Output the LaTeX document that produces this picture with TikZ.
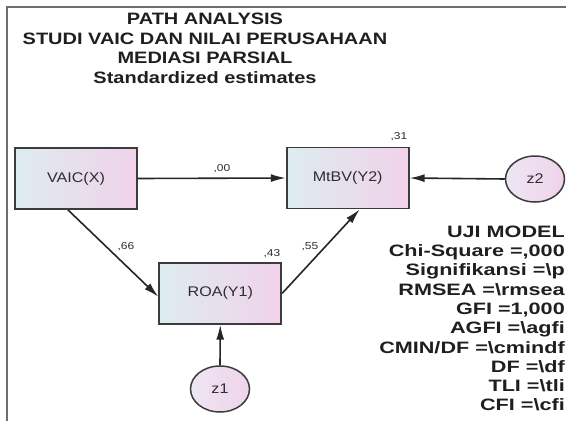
\documentclass[tikz,border=0pt]{standalone}
\usepackage{fontspec}
\setmainfont{Liberation Sans}
\usepackage{graphicx}
\usetikzlibrary{arrows.meta,calc,shapes.geometric}
\definecolor{boxL}{HTML}{DDECEF}
\definecolor{boxR}{HTML}{F1D2EA}
\definecolor{ellL}{HTML}{EDE6F3}
\definecolor{ellR}{HTML}{EFD3EA}
\definecolor{edgeC}{HTML}{3C3C3C}
\definecolor{txtC}{HTML}{2E2E2E}
\definecolor{frameC}{HTML}{6E6E6E}
\newcommand\hx[2]{\scalebox{#1}[1]{#2}}
\tikzset{
  varbox/.style={draw=edgeC, line width=1.8pt, left color=boxL, right color=boxR,
    minimum width=122pt, minimum height=61pt, inner sep=0pt,
    font=\fontsize{14}{16}\selectfont, text=txtC},
  errell/.style={ellipse, draw=edgeC, line width=1.5pt, left color=ellL, right color=ellR,
    minimum width=59pt, minimum height=46pt, inner sep=0pt,
    font=\fontsize{14}{16}\selectfont, text=txtC},
  path/.style={line width=1.6pt, draw=black!85, -{Latex[length=15pt,width=8pt]}},
  coef/.style={font=\fontsize{10}{12}\selectfont, text=txtC, inner sep=0pt},
}
\begin{document}
\begin{tikzpicture}[x=1pt,y=-1pt]
\useasboundingbox (0,0) rectangle (566,421);
\fill[white] (0,0) rectangle (566,421);
% frame
\draw[frameC, line width=2pt] (7,421) -- (7,6.5) -- (566,6.5);
% title
\node[anchor=north, inner sep=0pt, font=\bfseries\fontsize{16.5}{19.7}\selectfont, text=black!88] (title) at (205,10.5)
  {\hx{1.21}{\begin{tabular}{@{}c@{}}PATH ANALYSIS\\STUDI VAIC DAN NILAI PERUSAHAAN\\MEDIASI PARSIAL\\Standardized estimates\end{tabular}}};
% variables
\node[varbox] (vaic) at (76,178.5) {\hx{1.15}{VAIC(X)}};
\node[varbox] (mtbv) at (347.7,178) {\hx{1.15}{MtBV(Y2)}};
\node[varbox] (roa) at (220.3,293.3) {\hx{1.15}{ROA(Y1)}};
\node[errell] (z1) at (220,389) {\hx{1.15}{z1}};
\node[errell] (z2) at (535,179) {\hx{1.15}{z2}};
% paths
\draw[path] (vaic.east) -- (mtbv.west);
\draw[path] ($(vaic.south)+(-8,0)$) -- ($(roa.west)+(0,3.5)$);
\draw[path] (roa.east) -- ($(mtbv.south)+(12,0)$);
\draw[path] (z2.west) -- (mtbv.east);
\draw[path] (z1.north) -- (roa.south);
% coefficients
\node[coef] (c00) at (222,169) {\hx{1.2}{,00}};
\node[coef] (c66) at (126,247) {\hx{1.2}{,66}};
\node[coef] (c43) at (272,254) {\hx{1.2}{,43}};
\node[coef] (c55) at (310,247) {\hx{1.2}{,55}};
\node[coef] (c31) at (399,137) {\hx{1.2}{,31}};
% model test
\node[anchor=north east, inner sep=0pt, font=\bfseries\fontsize{16.5}{19.3}\selectfont, text=black!88] (uji) at (565,223.5)
  {\hx{1.31}{\begin{tabular}{@{}r@{}}UJI MODEL\\Chi-Square =,000\\Signifikansi =\textbackslash p\\RMSEA =\textbackslash rmsea\\GFI =1,000\\AGFI =\textbackslash agfi\\CMIN/DF =\textbackslash cmindf\\DF =\textbackslash df\\TLI =\textbackslash tli\\CFI =\textbackslash cfi\end{tabular}}};
\end{tikzpicture}
\end{document}
